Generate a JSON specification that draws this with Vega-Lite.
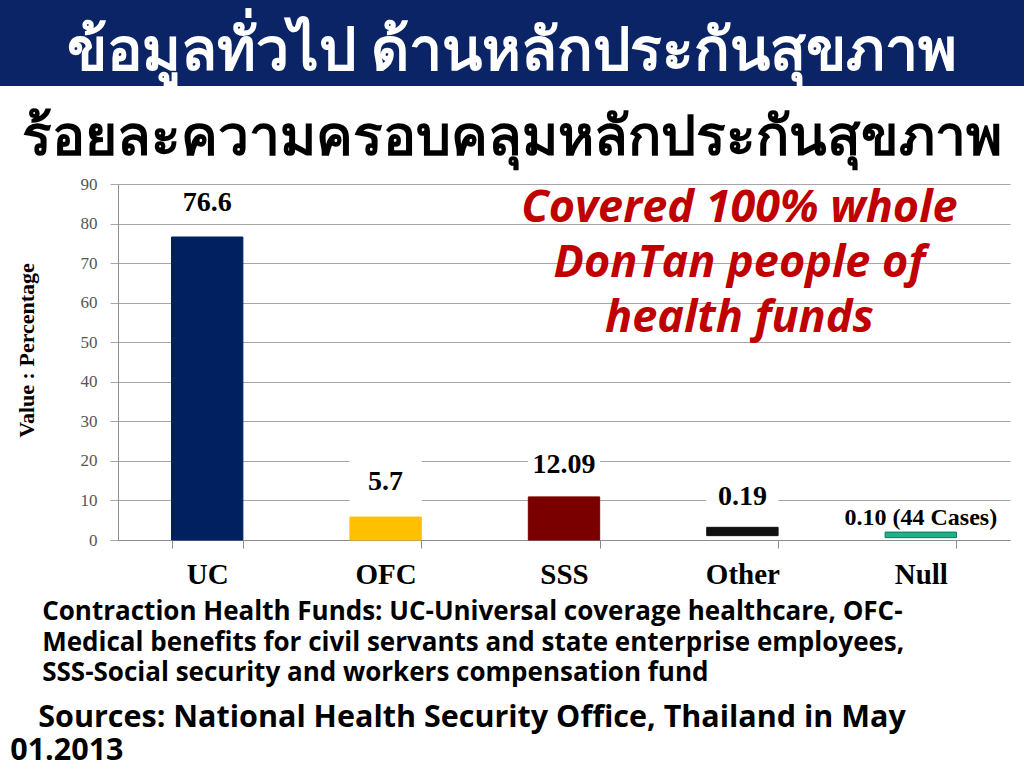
{
  "$schema": "https://vega.github.io/schema/vega-lite/v6.json",
  "width": 1024,
  "height": 768,
  "autosize": "none",
  "padding": 0,
  "background": "white",
  "config": {"view": {"stroke": null}},
  "resolve": {"axis": {"x": "independent", "y": "independent"}},
  "layer": [
    {
      "data": {"values": [{"top": 136.6, "bottom": 114.8}]},
      "mark": {"type": "rect", "color": "#0a2466", "clip": false},
      "encoding": {
        "y": {"field": "top", "type": "quantitative", "axis": null},
        "y2": {"field": "bottom"}
      }
    },
    {
      "data": {"values": [{"text": "ข้อมูลทั่วไป ด้านหลักประกันสุขภาพ", "pos": 123.4}]},
      "mark": {"type": "text", "color": "white", "font": "Noto Sans, sans-serif", "fontSize": 59, "fontWeight": "bold", "baseline": "middle", "align": "center"},
      "encoding": {
        "y": {"field": "pos", "type": "quantitative", "axis": null},
        "text": {"field": "text"}
      }
    },
    {
      "data": {"values": [{"text": "ร้อยละความครอบคลุมหลักประกันสุขภาพ", "pos": 101.6}]},
      "mark": {"type": "text", "color": "black", "font": "Noto Sans, sans-serif", "fontSize": 55, "fontWeight": "bold", "baseline": "middle", "align": "center"},
      "encoding": {
        "y": {"field": "pos", "type": "quantitative", "axis": null},
        "text": {"field": "text"}
      }
    },
    {
      "data": {"values": [
        {"cat": "UC", "base": 0, "top": 76.6},
        {"cat": "OFC", "base": 0, "top": 5.8},
        {"cat": "SSS", "base": 0, "top": 10.9},
        {"cat": "Other", "base": 1.1, "top": 3.2},
        {"cat": "Null", "base": 0.6, "top": 2.0}
      ]},
      "mark": {"type": "bar", "strokeWidth": 1},
      "encoding": {
        "x": {
          "field": "cat", "type": "nominal", "sort": null,
          "scale": {"range": [118, 1010], "paddingInner": 0.6, "paddingOuter": 0.3},
          "axis": {
            "orient": "bottom", "offset": -228, "title": null, "labelAngle": 0,
            "labelFont": "Liberation Serif", "labelFontSize": 29, "labelFontWeight": "bold", "labelColor": "black",
            "labelPadding": 12, "tickBand": "extent", "ticks": true, "tickSize": 8, "tickWidth": 1, "tickColor": "#8c8c8c", "domainColor": "#8c8c8c", "grid": false
          }
        },
        "y": {
          "field": "top", "type": "quantitative",
          "scale": {"domain": [0, 90], "range": [540, 184], "nice": false, "zero": false},
          "axis": {
            "orient": "left", "offset": -118, "values": [0, 10, 20, 30, 40, 50, 60, 70, 80, 90],
            "grid": true, "gridColor": "#a6a6a6", "tickSize": 8, "tickColor": "#a6a6a6", "domainColor": "#8c8c8c",
            "labelFont": "Liberation Serif", "labelFontSize": 17, "labelColor": "#555555", "labelPadding": 13,
            "title": "Value : Percentage", "titleFont": "Liberation Serif", "titleFontSize": 22, "titleFontWeight": "bold",
            "titleColor": "black", "titleX": -80, "titleY": 350
          }
        },
        "y2": {"field": "base"},
        "color": {
          "field": "cat", "type": "nominal", "legend": null,
          "scale": {"domain": ["UC", "OFC", "SSS", "Other", "Null"], "range": ["#002060", "#ffc000", "#7a0000", "#111111", "#22b08a"]}
        },
        "stroke": {
          "field": "cat", "type": "nominal", "legend": null,
          "scale": {"domain": ["UC", "OFC", "SSS", "Other", "Null"], "range": ["#002060", "#ffc000", "#7a0000", "#111111", "#0e7a5c"]}
        }
      }
    },
    {
      "data": {"values": [
        {"cat": "UC", "label": "76.6", "labelAt": 85.2},
        {"cat": "OFC", "label": "5.7", "labelAt": 14.7},
        {"cat": "SSS", "label": "12.09", "labelAt": 19.0},
        {"cat": "Other", "label": "0.19", "labelAt": 10.9},
        {"cat": "Null", "label": "0.10 (44 Cases)", "labelAt": 5.6}
      ]},
      "layer": [
        {
          "transform": [{"filter": "datum.cat !== 'UC' && datum.cat !== 'Null'"}],
          "mark": {"type": "point", "shape": "M-1,-0.6H1V0.6H-1Z", "filled": true, "color": "white", "opacity": 1, "size": 5200},
          "encoding": {
            "x": {"field": "cat", "type": "nominal", "sort": null, "axis": null},
            "y": {"field": "labelAt", "type": "quantitative", "axis": null}
          }
        },
        {
          "mark": {"type": "text", "font": "Liberation Serif", "fontWeight": "bold", "color": "black", "baseline": "middle"},
          "encoding": {
            "x": {"field": "cat", "type": "nominal", "sort": null, "axis": null},
            "y": {"field": "labelAt", "type": "quantitative", "axis": null},
            "text": {"field": "label"},
            "size": {"condition": {"test": "datum.cat === 'Null'", "value": 24}, "value": 28}
          }
        }
      ]
    },
    {
      "data": {"values": [{"cat": "Other", "pos": 80.4, "text": "Covered 100% whole\nDonTan people of\nhealth funds"}]},
      "mark": {"type": "text", "font": "Open Sans", "fontStyle": "italic", "fontWeight": "bold", "fontSize": 45, "color": "#c00000", "lineBreak": "\n", "lineHeight": 55, "baseline": "alphabetic", "align": "center", "dx": -3},
      "encoding": {
        "x": {"field": "cat", "type": "nominal", "sort": null, "axis": null},
        "y": {"field": "pos", "type": "quantitative", "axis": null},
        "text": {"field": "text"}
      }
    },
    {
      "data": {"values": [{"cat": "UC", "pos": -15.0, "text": "Contraction Health Funds:  UC-Universal coverage healthcare, OFC-\nMedical benefits for civil servants and state enterprise employees,\nSSS-Social security and workers compensation fund"}]},
      "mark": {"type": "text", "font": "Open Sans", "fontWeight": "bold", "fontSize": 26, "color": "black", "lineBreak": "\n", "lineHeight": 30.5, "baseline": "top", "align": "left", "dx": -165},
      "encoding": {
        "x": {"field": "cat", "type": "nominal", "sort": null, "axis": null},
        "y": {"field": "pos", "type": "quantitative", "axis": null},
        "text": {"field": "text"}
      }
    },
    {
      "data": {"values": [{"cat": "UC", "pos": -41.2, "text": "Sources:  National Health Security Office, Thailand in May"}]},
      "mark": {"type": "text", "font": "Open Sans", "fontWeight": "bold", "fontSize": 30.5, "color": "black", "baseline": "top", "align": "left", "dx": -169},
      "encoding": {
        "x": {"field": "cat", "type": "nominal", "sort": null, "axis": null},
        "y": {"field": "pos", "type": "quantitative", "axis": null},
        "text": {"field": "text"}
      }
    },
    {
      "data": {"values": [{"cat": "UC", "pos": -49.6, "text": "01.2013"}]},
      "mark": {"type": "text", "font": "Open Sans", "fontWeight": "bold", "fontSize": 30.5, "color": "black", "baseline": "top", "align": "left", "dx": -197},
      "encoding": {
        "x": {"field": "cat", "type": "nominal", "sort": null, "axis": null},
        "y": {"field": "pos", "type": "quantitative", "axis": null},
        "text": {"field": "text"}
      }
    }
  ]
}
